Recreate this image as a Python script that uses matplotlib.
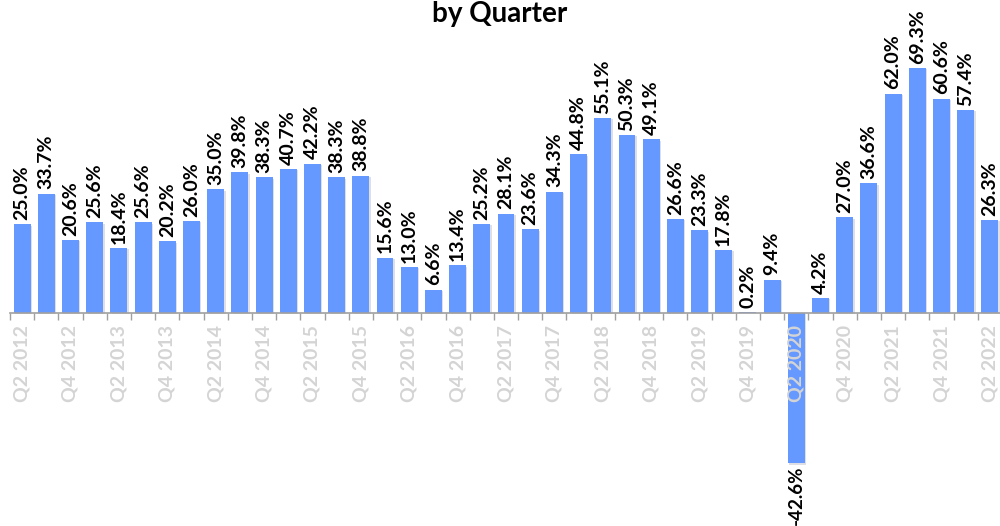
import numpy as np
import matplotlib.pyplot as plt
import matplotlib.patheffects as pe

# quarterly growth, Q2 2012 .. Q2 2022
quarters = []
for y in range(2012, 2023):
    for q in (1, 2, 3, 4):
        quarters.append(f"Q{q} {y}")
quarters = quarters[quarters.index("Q2 2012"):quarters.index("Q2 2022") + 1]

growth = [25.0, 33.7, 20.6, 25.6, 18.4, 25.6, 20.2, 26.0, 35.0, 39.8,
          38.3, 40.7, 42.2, 38.3, 38.8, 15.6, 13.0, 6.6, 13.4, 25.2,
          28.1, 23.6, 34.3, 44.8, 55.1, 50.3, 49.1, 26.6, 23.3, 17.8,
          0.2, 9.4, -42.6, 4.2, 27.0, 36.6, 62.0, 69.3, 60.6, 57.4, 26.3]

plt.rcParams['font.family'] = ['Lato', 'DejaVu Sans']

fig = plt.figure(figsize=(10, 5.26), dpi=100)
ax = fig.add_axes([0.01, 0.0, 0.992, 1.0])

x = np.arange(len(growth))
bars = ax.bar(x, growth, width=0.7, color='#6699FF', zorder=1)
for b in bars:
    b.set_path_effects([pe.SimplePatchShadow(offset=(1.0, -1.0), alpha=0.15), pe.Normal()])

for xi, v in zip(x, growth):
    if v >= 0:
        ax.text(xi, v + 1.2, f"{v:.1f}%", rotation=90, ha='center', va='bottom',
                fontsize=14, fontweight='bold', color='black')
    else:
        ax.text(xi, v - 0.6, f"{v:.1f}%", rotation=90, ha='center', va='top',
                fontsize=13.5, fontweight='bold', color='black')

ax.set_xlim(-0.5, len(growth) - 0.5)
ax.set_ylim(-60.3, 88.5)

for s in ['top', 'right', 'left']:
    ax.spines[s].set_visible(False)
ax.spines['bottom'].set_position(('data', 0))
ax.spines['bottom'].set_color('#a0a0a0')
ax.spines['bottom'].set_linewidth(1.2)
ax.set_yticks([])

ax.set_xticks(x[::2])
ax.set_xticklabels(quarters[::2], rotation=90, fontsize=14, fontweight='bold', color='#d4d4d4')
ax.tick_params(axis='x', which='major', length=0, pad=9)
ax.set_xticks(np.arange(-0.5, len(growth), 1), minor=True)
ax.tick_params(axis='x', which='minor', length=5, width=1, color='#a0a0a0', direction='out')

fig.text(0.5, 0.998, "by Quarter", ha='center', va='top', fontsize=20, fontweight='bold')

fig.savefig('out.png', dpi=100)
